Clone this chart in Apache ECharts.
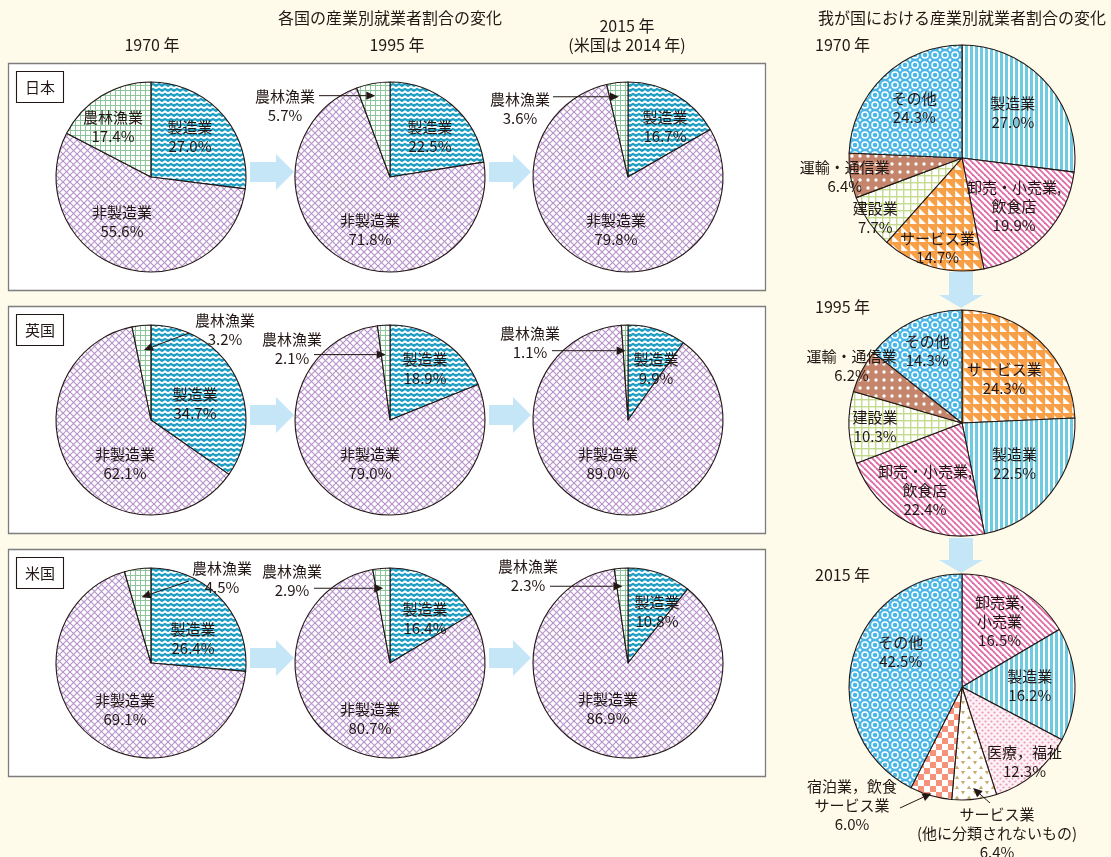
<!DOCTYPE html>
<html>
<head>
<meta charset="utf-8">
<script src="https://cdn.jsdelivr.net/npm/echarts@6/dist/echarts.min.js"></script>
<style>
  html, body { margin: 0; padding: 0; background: #fffbea; }
  #chart { width: 1111px; height: 857px; }
</style>
</head>
<body>
<div id="chart"></div>
<script>
// ---------- data ----------
const countryNames = ['日本', '英国', '米国'];
const periodTitles = ['1970 年', '1995 年', '2015 年'];
const periodNote = '(米国は 2014 年)';
const broadSectors = ['製造業', '非製造業', '農林漁業'];
// [1970, 1995, 2015] shares in %, ordered as broadSectors
const japanShares = [[27.0, 55.6, 17.4], [22.5, 71.8, 5.7], [16.7, 79.8, 3.6]];
const ukShares    = [[34.7, 62.1, 3.2], [18.9, 79.0, 2.1], [9.9, 89.0, 1.1]];
const usShares    = [[26.4, 69.1, 4.5], [16.4, 80.7, 2.9], [10.8, 86.9, 2.3]];

const jpYears = ['1970 年', '1995 年', '2015 年'];
const jp1970Sectors = ['製造業', '卸売・小売業,\n飲食店', 'サービス業', '建設業', '運輸・通信業', 'その他'];
const jp1970Shares  = [27.0, 19.9, 14.7, 7.7, 6.4, 24.3];
const jp1995Sectors = ['サービス業', '製造業', '卸売・小売業,\n飲食店', '建設業', '運輸・通信業', 'その他'];
const jp1995Shares  = [24.3, 22.5, 22.4, 10.3, 6.2, 14.3];
const jp2015Sectors = ['卸売業,\n小売業', '製造業', '医療，福祉', 'サービス業\n(他に分類されないもの)', '宿泊業，飲食\nサービス業', 'その他'];
const jp2015Shares  = [16.5, 16.2, 12.3, 6.4, 6.0, 42.5];

const mainTitle = '各国の産業別就業者割合の変化';
const sideTitle = '我が国における産業別就業者割合の変化';

// ---------- look ----------
const FONT = '"Noto Sans CJK JP", "Noto Sans", sans-serif';
const INK = '#231815';
const ARROW_FILL = '#c4e6f7';

function makeTile(w, h, paint) {
  const c = document.createElement('canvas');
  c.width = w; c.height = h;
  const g = c.getContext('2d');
  paint(g, w, h);
  return { image: c, repeat: 'repeat' };
}
function strokeWrapped(g, w, h, pts, color, lw) {
  g.strokeStyle = color; g.lineWidth = lw;
  for (let ox = -w; ox <= w; ox += w) {
    for (let oy = -h; oy <= h; oy += h) {
      g.beginPath();
      pts.forEach((p, i) => i ? g.lineTo(p[0] + ox, p[1] + oy) : g.moveTo(p[0] + ox, p[1] + oy));
      g.stroke();
    }
  }
}
function dotsWrapped(g, w, h, centers, r, color) {
  g.fillStyle = color;
  for (let ox = -w; ox <= w; ox += w) for (let oy = -h; oy <= h; oy += h) {
    centers.forEach(c => { g.beginPath(); g.arc(c[0] + ox, c[1] + oy, r, 0, Math.PI * 2); g.fill(); });
  }
}

const tealWave = makeTile(6, 5, (g, w, h) => {
  g.fillStyle = '#1f9dc3'; g.fillRect(0, 0, w, h);
  strokeWrapped(g, w, h, [[0, 3.5], [3, 1.5], [6, 3.5]], '#ffffff', 1.9);
});
const lilacLattice = makeTile(7, 7, (g, w, h) => {
  g.fillStyle = '#ffffff'; g.fillRect(0, 0, w, h);
  strokeWrapped(g, w, h, [[0, 0], [7, 7]], '#b893cb', 1.15);
  strokeWrapped(g, w, h, [[7, 0], [0, 7]], '#b893cb', 1.15);
});
const greenCheck = makeTile(5, 5, (g, w, h) => {
  g.fillStyle = '#ffffff'; g.fillRect(0, 0, w, h);
  g.fillStyle = '#8cc59c'; g.fillRect(0, 0, w, 1); g.fillRect(0, 0, 1, h);
});
const blueStripes = makeTile(5, 2, (g, w, h) => {
  g.fillStyle = '#ffffff'; g.fillRect(0, 0, w, h);
  g.fillStyle = '#6fcbe0'; g.fillRect(0, 0, 3, h);
});
const pinkStripes = makeTile(6, 6, (g, w, h) => {
  g.fillStyle = '#ffffff'; g.fillRect(0, 0, w, h);
  strokeWrapped(g, w, h, [[0, 0], [6, 6]], '#e06aa8', 1.8);
});
const orangeTriangles = makeTile(9, 9, (g, w, h) => {
  g.fillStyle = '#f7a048'; g.fillRect(0, 0, w, h);
  g.fillStyle = '#ffffff';
  g.beginPath(); g.moveTo(1.2, 1.2); g.lineTo(8, 8); g.lineTo(1.2, 8); g.closePath(); g.fill();
});
const paleGreenGrid = makeTile(7, 7, (g, w, h) => {
  g.fillStyle = '#ffffff'; g.fillRect(0, 0, w, h);
  g.fillStyle = '#c4da8c'; g.fillRect(0, 0, w, 1.4); g.fillRect(0, 0, 1.4, h);
});
const brownDots = makeTile(8, 8, (g, w, h) => {
  g.fillStyle = '#c4856c'; g.fillRect(0, 0, w, h);
  dotsWrapped(g, w, h, [[4, 4]], 1.7, '#ffffff');
});
const blueOrnament = makeTile(10, 10, (g, w, h) => {
  g.fillStyle = '#4ab7e7'; g.fillRect(0, 0, w, h);
  g.strokeStyle = '#ffffff'; g.lineWidth = 1.5;
  g.beginPath(); g.arc(5, 5, 3, 0, Math.PI * 2); g.stroke();
  dotsWrapped(g, w, h, [[0, 0]], 1.4, '#ffffff');
});
const pinkDots = makeTile(6, 6, (g, w, h) => {
  g.fillStyle = '#fdf1f5'; g.fillRect(0, 0, w, h);
  dotsWrapped(g, w, h, [[1.5, 1.5], [4.5, 4.5]], 1.1, '#ec9ab8');
});
const tanTriangles = makeTile(12, 10, (g, w, h) => {
  g.fillStyle = '#ffffff'; g.fillRect(0, 0, w, h);
  g.fillStyle = '#c6ae6f';
  g.beginPath(); g.moveTo(0.8, 1); g.lineTo(5.2, 1); g.lineTo(3, 4.6); g.closePath(); g.fill();
  g.beginPath(); g.moveTo(6.8, 9); g.lineTo(11.2, 9); g.lineTo(9, 5.4); g.closePath(); g.fill();
});
const salmonChecker = makeTile(12, 12, (g, w, h) => {
  g.fillStyle = '#ffffff'; g.fillRect(0, 0, w, h);
  g.fillStyle = '#f5937a'; g.fillRect(0, 0, 6, 6); g.fillRect(6, 6, 6, 6);
});

const broadFills = { '製造業': tealWave, '非製造業': lilacLattice, '農林漁業': greenCheck };
const detailFills = {
  '製造業': blueStripes,
  '卸売・小売業,\n飲食店': pinkStripes,
  '卸売業,\n小売業': pinkStripes,
  'サービス業': orangeTriangles,
  '建設業': paleGreenGrid,
  '運輸・通信業': brownDots,
  'その他': blueOrnament,
  '医療，福祉': pinkDots,
  'サービス業\n(他に分類されないもの)': tanTriangles,
  '宿泊業，飲食\nサービス業': salmonChecker
};

// ---------- layout ----------
const LEFT_CX = [151, 390, 628];
const LEFT_CY = [177, 420, 663];
const LEFT_R = 95;
const RIGHT_CX = 962;
const RIGHT_CY = [158, 423, 687];
const RIGHT_R = 113;

// label anchors relative to each pie centre (row-major: country, period)
const leftLabelSpots = [
  [[39, -40], [-29, 45], [-38, -50]],
  [[40, -40], [-20, 53], [-105, -71]],
  [[37, -50], [-12, 53], [-108, -68]],
  [[44, -16], [-26, 44], [74, -90]],
  [[35, -51], [-20, 44], [-98, -71]],
  [[28, -51], [-20, 44], [-98, -77]],
  [[42, -24], [-26, 47], [71, -85]],
  [[35, -44], [-20, 56], [-98, -82]],
  [[29, -51], [-20, 46], [-100, -87]]
];
// pointer arrows for thin slices: tip depth (fraction of radius), line start relative to label
const leftPointers = {
  1: { slice: 2, tip: 0.87, from: [34, null] },
  2: { slice: 2, tip: 0.85, from: [33, null] },
  3: { slice: 2, tip: 0.74, from: [-36, 3] },
  4: { slice: 2, tip: 0.69, from: [22, null] },
  5: { slice: 2, tip: 0.73, from: [22, null] },
  6: { slice: 2, tip: 0.70, from: [-33, 3] },
  7: { slice: 2, tip: 0.79, from: [22, null] },
  8: { slice: 2, tip: 0.81, from: [22, null] }
};
const rightLabelSpots = [
  [{ f: 0.6 }, { f: 0.63 }, { f: 0.82 }, { f: 0.93 }, { f: 1.05 }, { f: 0.61 }],
  [{ f: 0.54 }, { f: 0.59 }, { f: 0.68 }, { f: 0.77 }, { f: 1.1 }, { f: 0.71 }],
  [{ f: 0.67 }, { f: 0.6 }, { f: 0.86 }, { dx: 35, dy: 146 }, { dx: -110, dy: 118 }, { f: 0.63, nudge: [8, -19] }]
];
const rightPointers = [
  [],
  [],
  [{ slice: 3, tip: 0.9, from: [-7, -30] }, { slice: 4, tip: 0.98, from: [48, 3] }]
];

// ---------- geometry helpers ----------
function midAngle(values, i) {
  const total = values.reduce((a, b) => a + b, 0);
  let before = 0;
  for (let k = 0; k < i; k++) before += values[k];
  return (before + values[i] / 2) / total * Math.PI * 2;
}
function polar(cx, cy, radius, ang) {
  return [cx + radius * Math.sin(ang), cy - radius * Math.cos(ang)];
}
function spotToPoint(spot, values, i, cx, cy, r) {
  if (Array.isArray(spot)) return [cx + spot[0], cy + spot[1]];
  if (spot.f != null) {
    const p = polar(cx, cy, spot.f * r, midAngle(values, i));
    const n = spot.nudge || [0, 0];
    return [p[0] + n[0], p[1] + n[1]];
  }
  return [cx + spot.dx, cy + spot.dy];
}

const series = [];
const graphics = [];

function pointerGraphics(labelPt, tip, from) {
  const start = [labelPt[0] + from[0], from[1] == null ? tip[1] : labelPt[1] + from[1]];
  const dx = tip[0] - start[0], dy = tip[1] - start[1];
  const len = Math.hypot(dx, dy);
  const ux = dx / len, uy = dy / len;
  const headLen = 9, headHalf = 4.2;
  const base = [tip[0] - ux * headLen, tip[1] - uy * headLen];
  graphics.push({
    type: 'polyline', z: 20,
    shape: { points: [start, base] },
    style: { stroke: INK, lineWidth: 1, fill: null }
  });
  graphics.push({
    type: 'polygon', z: 20,
    shape: { points: [tip, [base[0] - uy * headHalf, base[1] + ux * headHalf], [base[0] + uy * headHalf, base[1] - ux * headHalf]] },
    style: { fill: INK }
  });
}

function addPie(names, values, fills, cx, cy, r, spots, pointers) {
  const labelPts = values.map((v, i) => spotToPoint(spots[i], values, i, cx, cy, r));
  series.push({
    type: 'pie',
    center: [cx, cy],
    radius: r,
    startAngle: 90,
    clockwise: true,
    silent: true,
    animation: false,
    avoidLabelOverlap: false,
    emphasis: { disabled: true },
    itemStyle: { borderColor: INK, borderWidth: 1.1 },
    label: {
      show: true,
      position: 'inside',
      formatter: p => p.name + '\n' + p.value.toFixed(1) + '%',
      color: INK,
      fontFamily: FONT,
      fontSize: 15,
      lineHeight: 19,
      textBorderWidth: 0
    },
    labelLine: { show: false },
    labelLayout: params => ({
      x: labelPts[params.dataIndex][0],
      y: labelPts[params.dataIndex][1],
      align: 'center',
      verticalAlign: 'middle'
    }),
    data: names.map((n, i) => ({ name: n, value: values[i], itemStyle: { color: fills[n] } }))
  });
  (pointers || []).forEach(pt => {
    const tip = polar(cx, cy, pt.tip * r, midAngle(values, pt.slice));
    pointerGraphics(labelPts[pt.slice], tip, pt.from);
  });
}

// ---------- frames, headings, arrows ----------
function text(str, x, y, size, align) {
  graphics.push({
    type: 'text', x: x, y: y, z: 5,
    style: {
      text: str, fill: INK, font: size + 'px ' + FONT,
      align: align || 'center', verticalAlign: 'middle',
      textAlign: align || 'center', textVerticalAlign: 'middle'
    }
  });
}

const countryShares = [japanShares, ukShares, usShares];
countryShares.forEach((shares, row) => {
  const top = 63.5 + row * 243;
  graphics.push({
    type: 'rect', z: -10,
    shape: { x: 8.5, y: top, width: 757, height: 227 },
    style: { fill: '#ffffff', stroke: '#7d7d7d', lineWidth: 1.3 }
  });
  graphics.push({
    type: 'rect', z: 1,
    shape: { x: 16.5, y: top + 8, width: 47, height: 31 },
    style: { fill: '#ffffff', stroke: INK, lineWidth: 1.1 }
  });
  text(countryNames[row], 40, top + 24, 15);
  const ay = LEFT_CY[row] - 5;
  [[250, 294], [489, 531]].forEach(([x0, x1]) => {
    const xm = x1 - 18;
    graphics.push({
      type: 'polygon', z: 1,
      shape: { points: [[x0, ay - 10], [xm, ay - 10], [xm, ay - 18], [x1, ay], [xm, ay + 18], [xm, ay + 10], [x0, ay + 10]] },
      style: { fill: ARROW_FILL }
    });
  });
  shares.forEach((vals, col) => {
    const idx = row * 3 + col;
    addPie(broadSectors, vals, broadFills, LEFT_CX[col], LEFT_CY[row], LEFT_R,
      leftLabelSpots[idx], leftPointers[idx] ? [leftPointers[idx]] : []);
  });
});

text(mainTitle, 390, 18, 16);
text(periodTitles[0], 152, 45, 16);
text(periodTitles[1], 397, 45, 16);
text(periodTitles[2], 627, 26, 16);
text(periodNote, 627, 45, 16);

text(sideTitle, 962, 18, 16);
const jpSectors = [jp1970Sectors, jp1995Sectors, jp2015Sectors];
const jpShares = [jp1970Shares, jp1995Shares, jp2015Shares];
const yearLabelY = [45, 307, 575];
jpSectors.forEach((names, k) => {
  text(jpYears[k], 815, yearLabelY[k], 16, 'left');
  addPie(names, jpShares[k], detailFills, RIGHT_CX, RIGHT_CY[k], RIGHT_R, rightLabelSpots[k], rightPointers[k]);
});
[[272, 308], [538, 573]].forEach(([y0, y1]) => {
  const ym = y1 - 13;
  const x = RIGHT_CX - 1;
  graphics.push({
    type: 'polygon', z: 1,
    shape: { points: [[x - 12, y0], [x + 12, y0], [x + 12, ym], [x + 22, ym], [x, y1], [x - 22, ym], [x - 12, ym]] },
    style: { fill: ARROW_FILL }
  });
});

const chart = echarts.init(document.getElementById('chart'), null, { renderer: 'canvas' });
chart.setOption({
  backgroundColor: '#fffbea',
  animation: false,
  textStyle: { fontFamily: FONT },
  graphic: { elements: graphics },
  series: series
});
</script>
</body>
</html>
